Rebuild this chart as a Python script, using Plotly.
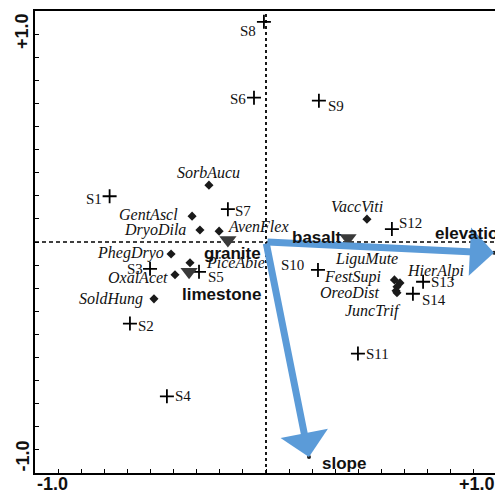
import plotly.graph_objects as go

# ---------------- data ----------------
site_names = ["S1", "S2", "S3", "S4", "S5", "S6", "S7", "S8", "S9", "S10", "S11", "S12", "S13", "S14"]
site_x = [-0.677, -0.589, -0.502, -0.429, -0.290, -0.052, -0.165, -0.009, 0.229, 0.225, 0.398, 0.545, 0.680, 0.636]
site_y = [0.198, -0.353, -0.116, -0.668, -0.129, 0.625, 0.142, 0.953, 0.612, -0.121, -0.483, 0.056, -0.172, -0.224]

species_names = ["SorbAucu", "GentAscl", "DryoDila", "AvenFlex", "PhegDryo", "PiceAbie", "OxalAcet",
                 "SoldHung", "VaccViti", "LiguMute", "HierAlpi", "FestSupi", "OreoDist", "JuncTrif"]
species_x = [-0.247, -0.320, -0.286, -0.203, -0.411, -0.329, -0.394, -0.485, 0.437, 0.556, 0.580, 0.567, 0.563, 0.567]
species_y = [0.246, 0.112, 0.052, 0.047, -0.052, -0.090, -0.142, -0.246, 0.099, -0.164, -0.177, -0.194, -0.211, -0.220]

nominal_names = ["granite", "basalt", "limestone"]
nominal_x = [-0.165, 0.355, -0.333]
nominal_y = [0.009, 0.017, -0.129]

env_names = ["elevation", "slope"]
env_x = [0.987, 0.186]
env_y = [-0.047, -0.931]

axis_min, axis_max = -1.0, 1.0
tick_labels = {"min": "-1.0", "max": "+1.0"}

# ---------------- label placement (style) ----------------
site_lab = {
    "S1": ("right", -6, -3), "S2": ("left", 6, -2), "S3": ("right", -5, 0), "S4": ("left", 6, 0),
    "S5": ("left", 7, -5), "S6": ("right", -6, -1), "S7": ("left", 5, -2), "S8": ("right", -6, -9),
    "S9": ("left", 7, -5), "S10": ("right", -12, 5), "S11": ("left", 6, 0), "S12": ("left", 5, 6),
    "S13": ("left", 6, 0), "S14": ("left", 7, -6),
}
species_lab = {
    "SorbAucu": ("center", 0, 13), "GentAscl": ("right", -12, 2), "DryoDila": ("right", -12, 0),
    "AvenFlex": ("left", 7, 5), "PhegDryo": ("right", -5, 1), "PiceAbie": ("left", 14, 0),
    "OxalAcet": ("right", -5, -3), "SoldHung": ("right", -9, 0), "VaccViti": ("center", -10, 13),
    "LiguMute": ("center", -28, 21), "HierAlpi": ("left", 5, 12), "FestSupi": ("right", -14, 10),
    "OreoDist": ("right", -14, -2), "JuncTrif": ("center", -24, -18),
}
nominal_lab = {"granite": ("center", 5, -14), "basalt": ("right", -5, 1), "limestone": ("left", -9, -23)}
env_lab = {"elevation": ("left", -61, 19), "slope": ("left", 11, -6)}

serif = "Liberation Serif, Times New Roman, serif"
sans = "Liberation Sans, Arial, sans-serif"
arrow_color = "#5B9BD8"

fig = go.Figure()

# reference dashed axes
fig.add_shape(type="line", x0=axis_min, x1=axis_max, y0=0, y1=0, xref="x", yref="y",
              line=dict(color="black", width=1.5, dash="4px,3px"), layer="below")
fig.add_shape(type="line", x0=0, x1=0, y0=axis_min, y1=axis_max, xref="x", yref="y",
              line=dict(color="black", width=1.8, dash="3px,3px"), layer="below")

# sites
fig.add_trace(go.Scatter(x=site_x, y=site_y, mode="markers",
                         marker=dict(symbol="cross-thin", size=10, line=dict(color="black", width=1.8)),
                         hoverinfo="text", text=site_names, showlegend=False))
# species
fig.add_trace(go.Scatter(x=species_x, y=species_y, mode="markers",
                         marker=dict(symbol="diamond", size=7, color="#1a1a1a"),
                         hoverinfo="text", text=species_names, showlegend=False))
# nominal env
fig.add_trace(go.Scatter(x=nominal_x, y=nominal_y, mode="markers",
                         marker=dict(symbol="triangle-down", size=15, color="#3a3a3a"),
                         hoverinfo="text", text=nominal_names, showlegend=False))

annotations = []
# arrows
for n, ex, ey in zip(env_names, env_x, env_y):
    annotations.append(dict(x=ex, y=ey, ax=0, ay=0, xref="x", yref="y", axref="x", ayref="y",
                            showarrow=True, arrowhead=1, arrowsize=1.15, arrowwidth=7,
                            arrowcolor=arrow_color, text=""))
fig.add_trace(go.Scatter(x=env_x, y=env_y, mode="markers",
                         marker=dict(symbol="circle", size=4, color="#222"),
                         hoverinfo="text", text=env_names, showlegend=False))


def add_labels(names, xs, ys, place, font):
    for n, x, y in zip(names, xs, ys):
        anc, dx, dy = place[n]
        annotations.append(dict(x=x, y=y, xref="x", yref="y", text=n, showarrow=False,
                                xanchor=anc, yanchor="middle", xshift=dx, yshift=dy, font=font))


add_labels(site_names, site_x, site_y, site_lab, dict(family=serif, size=15, color="#111"))
add_labels(species_names, species_x, species_y, species_lab,
           dict(family=serif, size=16, color="#111", style="italic"))
add_labels(nominal_names, nominal_x, nominal_y, nominal_lab,
           dict(family=sans, size=17, color="#111", weight="bold"))
add_labels(env_names, env_x, env_y, env_lab, dict(family=sans, size=17, color="#111", weight="bold"))

tick_font = dict(family=sans, size=18, color="#111", weight="bold")
annotations += [
    dict(x=0, y=0, xref="paper", yref="paper", text=tick_labels["min"], showarrow=False,
         xanchor="left", yanchor="top", yshift=1, font=tick_font),
    dict(x=1, y=0, xref="paper", yref="paper", text=tick_labels["max"], showarrow=False,
         xanchor="right", yanchor="top", yshift=1, font=tick_font),
    dict(x=0, y=1, xref="paper", yref="paper", text=tick_labels["max"], showarrow=False,
         xanchor="right", yanchor="top", xshift=-1, textangle=-90, font=tick_font),
    dict(x=0, y=0, xref="paper", yref="paper", text=tick_labels["min"], showarrow=False,
         xanchor="right", yanchor="bottom", xshift=-1, textangle=-90, font=tick_font),
]

tickvals = [round(axis_min + 0.1 * i, 1) for i in range(21)]
axis_common = dict(range=[axis_min, axis_max], showgrid=False, zeroline=False, showline=True, mirror=True,
                   linecolor="black", linewidth=2, ticks="inside", ticklen=4, tickwidth=1,
                   tickcolor="black", tickvals=tickvals, showticklabels=False, fixedrange=True)

# page body has an 8px default margin: size the figure so it fills the 503x493 window
fig.update_layout(
    width=495, height=485,
    margin=dict(l=27, r=6, t=1, b=20),
    paper_bgcolor="white", plot_bgcolor="white",
    xaxis=axis_common, yaxis=axis_common,
    annotations=annotations,
    showlegend=False,
)

fig.write_html("out.html")
